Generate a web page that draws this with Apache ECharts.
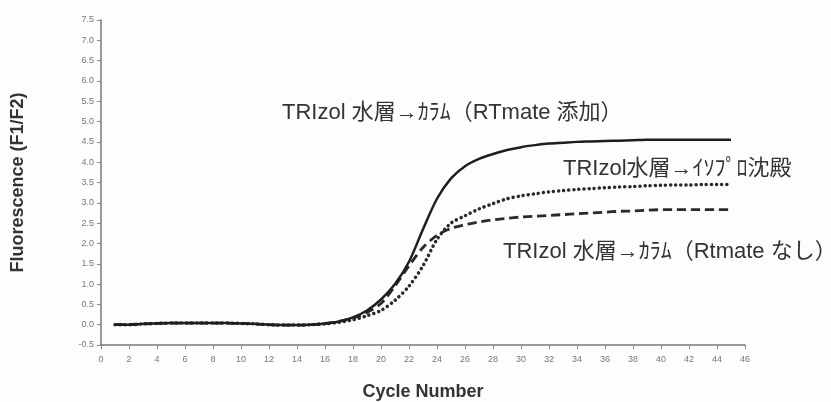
<!DOCTYPE html>
<html>
<head>
<meta charset="utf-8">
<script src="https://cdn.jsdelivr.net/npm/echarts@6/dist/echarts.min.js"></script>
<style>
  html, body { margin: 0; padding: 0; background: #fdfdfd; }
  #chart { width: 831px; height: 402px; }
</style>
</head>
<body>
<div id="chart"></div>
<script>
// cycle numbers (x)
var cycles = [1, 2, 3, 4, 5, 6, 7, 8, 9, 10, 11, 12, 13, 14, 15, 16, 17, 18, 19, 20,
  21, 22, 23, 24, 25, 26, 27, 28, 29, 30, 31, 32, 33, 34, 35, 36, 37, 38, 39, 40,
  41, 42, 43, 44, 45];

// TRIzol 水層→カラム（RTmate 添加） : solid
var rtmateAdd = [0.0, 0.0, 0.02, 0.03, 0.04, 0.04, 0.04, 0.04, 0.04, 0.03,
  0.02, 0.0, -0.01, -0.01, 0.0, 0.03, 0.08, 0.18, 0.35, 0.62,
  1.0, 1.55, 2.35, 3.1, 3.6, 3.9, 4.08, 4.2, 4.3, 4.37,
  4.42, 4.46, 4.48, 4.5, 4.51, 4.52, 4.53, 4.54, 4.55, 4.55,
  4.55, 4.55, 4.55, 4.55, 4.55];

// TRIzol水層→イソプロ沈殿 : dotted
var isopro = [0.0, 0.0, 0.02, 0.03, 0.04, 0.04, 0.04, 0.04, 0.04, 0.03,
  0.02, 0.0, -0.01, -0.01, 0.0, 0.02, 0.06, 0.12, 0.22, 0.35,
  0.6, 0.95, 1.45, 2.1, 2.5, 2.68, 2.85, 2.98, 3.1, 3.17,
  3.22, 3.27, 3.3, 3.33, 3.35, 3.37, 3.39, 3.4, 3.42, 3.43,
  3.44, 3.44, 3.45, 3.45, 3.45];

// TRIzol 水層→カラム（Rtmate なし） : dashed
var rtmateNone = [0.0, 0.0, 0.02, 0.03, 0.04, 0.04, 0.04, 0.04, 0.04, 0.03,
  0.02, 0.0, -0.01, -0.01, 0.0, 0.03, 0.08, 0.16, 0.3, 0.52,
  0.95, 1.45, 1.9, 2.2, 2.37, 2.46, 2.53, 2.58, 2.62, 2.65,
  2.67, 2.69, 2.71, 2.73, 2.75, 2.77, 2.79, 2.8, 2.82, 2.83,
  2.83, 2.83, 2.83, 2.83, 2.83];

var seriesNames = ['TRIzol 水層→ｶﾗﾑ（RTmate 添加）', 'TRIzol水層→ｲｿﾌﾟﾛ沈殿', 'TRIzol 水層→ｶﾗﾑ（Rtmate なし）'];

function pairs(vals) {
  return cycles.map(function (c, i) { return [c, vals[i]]; });
}

var chart = echarts.init(document.getElementById('chart'));
var labelFont = '22px "Liberation Sans", "Noto Sans CJK JP", sans-serif';

chart.setOption({
  backgroundColor: '#fdfdfd',
  animation: false,
  grid: { left: 101, right: 86, top: 20, bottom: 57, containLabel: false, outerBoundsMode: 'none' },
  xAxis: {
    type: 'value',
    min: 0, max: 46, interval: 2,
    name: 'Cycle Number',
    nameLocation: 'middle',
    nameGap: 38,
    nameTextStyle: { fontSize: 18, fontWeight: 'bold', color: '#333', fontFamily: 'Liberation Sans' },
    axisLine: { onZero: false, lineStyle: { color: '#777', width: 1.5 } },
    axisTick: { length: 4, lineStyle: { color: '#888' } },
    axisLabel: { color: '#777', fontSize: 9, margin: 10 },
    splitLine: { show: false }
  },
  yAxis: {
    type: 'value',
    min: -0.5, max: 7.5, interval: 0.5,
    name: 'Fluorescence (F1/F2)',
    nameLocation: 'middle',
    nameGap: 74,
    nameTextStyle: { fontSize: 18, fontWeight: 'bold', color: '#333', fontFamily: 'Liberation Sans' },
    axisLine: { show: true, onZero: false, lineStyle: { color: '#777', width: 1.5 } },
    axisTick: { show: true, length: 4, lineStyle: { color: '#888' } },
    axisLabel: { color: '#777', fontSize: 9, margin: 7, formatter: function (v) { return v.toFixed(1); } },
    splitLine: { show: false }
  },
  series: [
    {
      name: seriesNames[0], type: 'line', data: pairs(rtmateAdd), symbol: 'none', smooth: 0.3, z: 3,
      lineStyle: { color: '#1e1e1e', width: 2.5 }
    },
    {
      name: seriesNames[1], type: 'line', data: pairs(isopro), symbol: 'none', smooth: 0.3, z: 2,
      lineStyle: { color: '#2a2a2a', width: 3.5, type: [0.1, 5], cap: 'round' }
    },
    {
      name: seriesNames[2], type: 'line', data: pairs(rtmateNone), symbol: 'none', smooth: 0.3, z: 2,
      lineStyle: { color: '#2a2a2a', width: 2.8, type: [9, 5] }
    }
  ],
  graphic: [
    { type: 'text', left: 282, top: 102, style: { text: seriesNames[0], fill: '#333', font: labelFont } },
    { type: 'text', left: 563, top: 158, style: { text: seriesNames[1], fill: '#333', font: labelFont } },
    { type: 'text', left: 503, top: 241, style: { text: seriesNames[2], fill: '#333', font: labelFont } }
  ]
});
</script>
</body>
</html>
